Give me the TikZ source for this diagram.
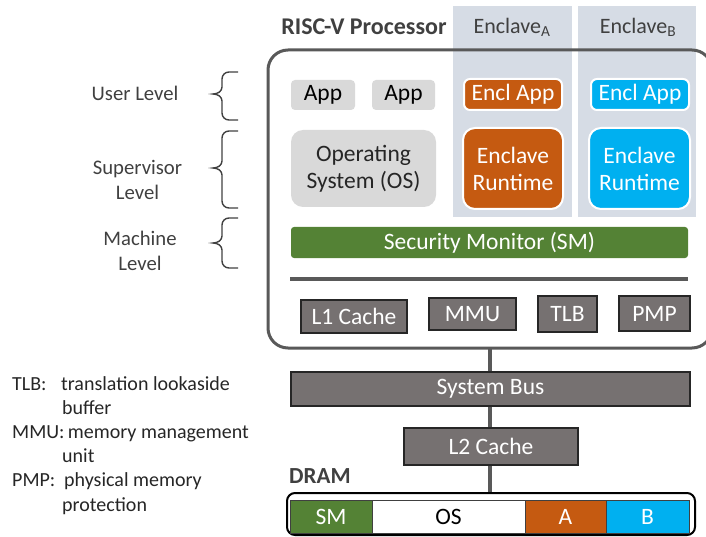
\documentclass[tikz,border=0pt]{standalone}
\usepackage{fontspec}
\setmainfont{Carlito}
\definecolor{colbg}{HTML}{D6DCE5}
\definecolor{appgrey}{HTML}{D9D9D9}
\definecolor{encA}{HTML}{C55A11}
\definecolor{encB}{HTML}{00B0F0}
\definecolor{smgreen}{HTML}{548235}
\definecolor{hwgrey}{HTML}{767171}
\definecolor{frameg}{HTML}{595959}
\definecolor{txtdark}{HTML}{262626}
\definecolor{txtgrey}{HTML}{404040}
\begin{document}
\begin{tikzpicture}[x=1pt,y=-1pt,
  big/.style={font=\fontsize{23.5}{27}\selectfont},
  small/.style={font=\fontsize{20.7}{25}\selectfont},
  col/.style={rectangle, fill=colbg, inner sep=0},
  frm/.style={rectangle, draw=frameg, line width=3pt, rounded corners=20pt, inner sep=0},
  app/.style={rectangle, fill=appgrey, rounded corners=4pt, inner sep=0, big, text=black},
  encl/.style={rectangle, draw=white, line width=2pt, rounded corners=6pt, inner sep=0, big, text=white, align=center},
  hw/.style={rectangle, fill=hwgrey, draw=txtdark, line width=1.5pt, inner sep=0, big, text=white},
  seg/.style={rectangle, draw=txtgrey, line width=0.8pt, inner sep=0, big},
  brc/.style={draw=txtgrey, line width=1.4pt},
  lvl/.style={small, text=txtgrey, align=center},
  busline/.style={draw=frameg, line width=4pt}
]
\useasboundingbox (0,0) rectangle (706,537);

% enclave columns
\node[col, minimum width=119pt, minimum height=211pt] (colA) at (512.5,111.5) {};
\node[col, minimum width=118pt, minimum height=211pt] (colB) at (637,111.5) {};
\node[font=\fontsize{22}{26}\selectfont, text=txtgrey] (hA) at (512,27) {Enclave\textsubscript{A}};
\node[font=\fontsize{22}{26}\selectfont, text=txtgrey] (hB) at (638,27) {Enclave\textsubscript{B}};
\node[font=\fontsize{24}{28}\selectfont\bfseries, text=txtgrey] (risc) at (364,27) {RISC-V Processor};

% processor frame
\node[frm, minimum width=444pt, minimum height=298pt] (proc) at (490,199) {};

% connecting bus line
\coordinate (busTop) at (490,348);
\node[seg, draw=black, line width=2pt, rounded corners=8pt, minimum width=408pt, minimum height=42pt] (dram) at (491,514) {};
\draw[busline] (busTop) -- (busTop |- dram.north);

% user level
\node[app, minimum width=64pt, minimum height=30pt] (app1) at (323,95) {App};
\node[app, minimum width=63pt, minimum height=30pt] (app2) at (403.5,95) {App};
\node[encl, fill=encA, minimum width=98pt, minimum height=31pt] (eappA) at (513,94.5) {Encl App};
\node[encl, fill=encB, minimum width=98pt, minimum height=31pt] (eappB) at (640,94.5) {Encl App};

% supervisor level
\node[app, rounded corners=12pt, minimum width=145pt, minimum height=77pt, text=txtdark, align=center] (os) at (363.5,168.5) {Operating\\System (OS)};
\node[encl, fill=encA, rounded corners=12pt, minimum width=100pt, minimum height=81pt] (rtA) at (513,168.5) {Enclave\\Runtime};
\node[encl, fill=encB, rounded corners=12pt, minimum width=101pt, minimum height=81pt] (rtB) at (639.5,168.5) {Enclave\\Runtime};

% machine level
\node[rectangle, fill=smgreen, rounded corners=3pt, inner sep=0, big, text=white, minimum width=397pt, minimum height=31pt] (sm) at (489.5,242.5) {Security Monitor (SM)};

% separator
\coordinate (sepL) at (290,279);
\coordinate (sepR) at (688,279);
\draw[busline] (sepL) -- (sepR);

% hardware units
\node[hw, minimum width=106pt, minimum height=33pt] (l1) at (354,316.5) {L1 Cache};
\node[hw, minimum width=87pt, minimum height=32pt] (mmu) at (472.5,314) {MMU};
\node[hw, minimum width=59pt, minimum height=36pt] (tlb) at (567.5,314) {TLB};
\node[hw, minimum width=71pt, minimum height=35pt] (pmp) at (654.5,313.5) {PMP};

% bus & L2
\node[hw, minimum width=399pt, minimum height=34pt] (sysbus) at (490.5,389) {System Bus};
\node[hw, minimum width=174pt, minimum height=37pt] (l2) at (491,446.5) {L2 Cache};

% DRAM
\node[font=\fontsize{23}{27}\selectfont\bfseries, text=txtgrey, anchor=west, inner sep=0] (dramlbl) at (289,476) {DRAM};
\node[seg, fill=smgreen, text=white, minimum width=82pt, minimum height=33pt] (dsm) at (331,516.5) {SM};
\node[seg, fill=white, text=black, minimum width=153pt, minimum height=33pt] (dos) at (448.5,516.5) {OS};
\node[seg, fill=encA, text=white, minimum width=81pt, minimum height=33pt] (dA) at (565.5,516.5) {A};
\node[seg, fill=encB, text=white, minimum width=83pt, minimum height=33pt] (dB) at (647.5,516.5) {B};

% level labels
\node[lvl] (ul) at (135,93) {User Level};
\node[lvl] (sl) at (137.5,179.5) {Supervisor\\Level};
\node[lvl] (ml) at (140,251) {Machine\\Level};

% braces
\draw[brc] (238,72) -- (229,72) to[out=180,in=90] (222,79) -- (222,87) to[out=-90,in=0] (213,94)
           to[out=0,in=90] (222,101) -- (222,113) to[out=-90,in=180] (229,120) -- (238,120);
\draw[brc] (238,131) -- (229,131) to[out=180,in=90] (222,138) -- (222,161) to[out=-90,in=0] (213,168)
           to[out=0,in=90] (222,175) -- (222,201) to[out=-90,in=180] (229,208) -- (238,208);
\draw[brc] (238,218) -- (229,218) to[out=180,in=90] (222,225) -- (222,236) to[out=-90,in=0] (213,243)
           to[out=0,in=90] (222,250) -- (222,261) to[out=-90,in=180] (229,268) -- (238,268);

% legend
\node[font=\fontsize{20}{24.2}\selectfont, text=txtdark, anchor=north west, inner sep=0, align=left] (legend) at (12,376) {%
\makebox[49pt][l]{TLB:}translation lookaside\\
\hspace*{50pt}buffer\\
MMU:\,memory management\\
\hspace*{50pt}unit\\
\makebox[52pt][l]{PMP:}physical memory\\
\hspace*{50pt}protection};
\end{tikzpicture}
\end{document}
